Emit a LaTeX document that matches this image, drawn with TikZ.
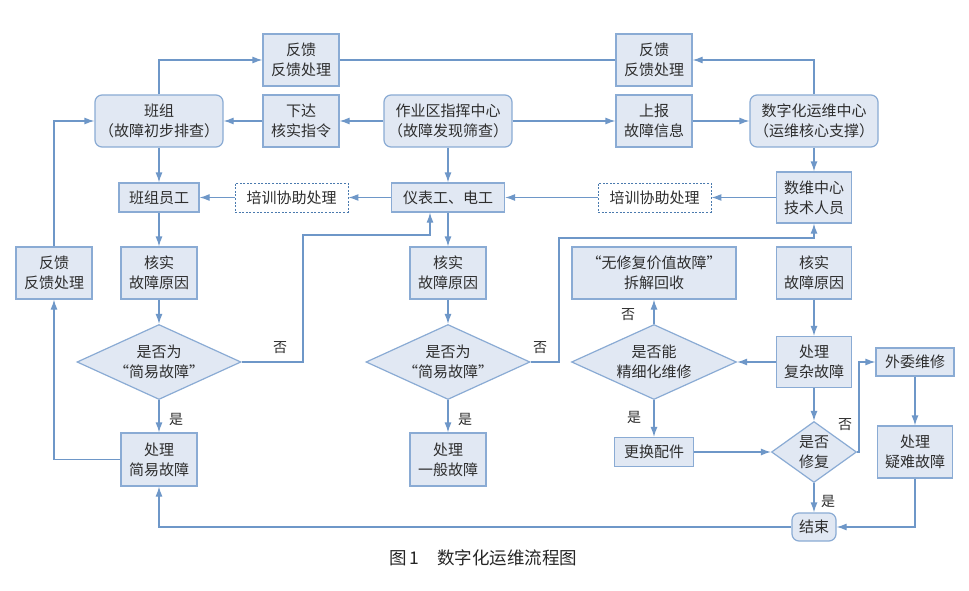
\documentclass[tikz,border=0pt]{standalone}
\usepackage{fontspec}
\newfontfamily\cjk{Noto Sans CJK SC}
\usetikzlibrary{shapes.geometric,arrows.meta}
\definecolor{boxfill}{HTML}{E1E8F3}
\definecolor{boxline}{HTML}{8AABD4}
\definecolor{lncol}{HTML}{6E97C8}
\definecolor{txt}{HTML}{2E2E2E}
\definecolor{dashcol}{HTML}{4A7AAE}
\begin{document}
\begin{tikzpicture}[x=1pt,y=-1pt,
  base/.style={font=\cjk\fontsize{15}{20}\selectfont, text=txt, align=center, inner sep=0pt},
  box/.style={base, rectangle, draw=boxline, fill=boxfill, line width=1.2pt},
  rbox/.style={box, rounded corners=7pt},
  dbox/.style={base, rectangle, draw=dashcol, fill=white, line width=0.9pt, dash pattern=on 2pt off 1.6pt},
  dia/.style={base, diamond, draw=boxline, fill=boxfill, line width=1.2pt},
  arr/.style={draw=lncol, line width=1.2pt, -{Latex[length=10pt,width=7pt]}},
  ln/.style={draw=lncol, line width=1.2pt},
  lab/.style={font=\cjk\fontsize{14}{16}\selectfont, text=txt, inner sep=0pt},
  captext/.style={font=\cjk\fontsize{17.5}{20}\selectfont, text=black!85, inner sep=0pt},
]
\fill[white] (0,0) rectangle (969,591);
\useasboundingbox (0,0) rectangle (969,591);

% top row
\node[box, minimum width=76pt, minimum height=52pt] (fb1) at (301,60) {反馈\\反馈处理};
\node[box, minimum width=76pt, minimum height=52pt] (fb2) at (654,60) {反馈\\反馈处理};
\node[rbox, minimum width=128pt, minimum height=52pt] (banzu) at (159,121) {班组\\（故障初步排查）};
\node[box, minimum width=76pt, minimum height=52pt] (xiada) at (301,121) {下达\\核实指令};
\node[rbox, minimum width=128pt, minimum height=52pt] (zyq) at (448,121) {作业区指挥中心\\（故障发现筛查）};
\node[box, minimum width=76pt, minimum height=52pt] (shangbao) at (654,121) {上报\\故障信息};
\node[rbox, minimum width=128pt, minimum height=52pt] (szh) at (814,121) {数字化运维中心\\（运维核心支撑）};

% second row
\node[box, minimum width=80pt, minimum height=29pt] (bzyg) at (159,197.5) {班组员工};
\node[dbox, minimum width=113pt, minimum height=29pt] (px1) at (291.5,197.5) {培训协助处理};
\node[box, minimum width=113pt, minimum height=29pt] (ybg) at (448,197.5) {仪表工、电工};
\node[dbox, minimum width=113pt, minimum height=29pt] (px2) at (654.5,197.5) {培训协助处理};
\node[box, minimum width=75pt, minimum height=51pt] (swz) at (814,197.5) {数维中心\\技术人员};

% third row
\node[box, minimum width=76pt, minimum height=52pt] (fb3) at (54,273) {反馈\\反馈处理};
\node[box, minimum width=76pt, minimum height=52pt] (hs1) at (159,273) {核实\\故障原因};
\node[box, minimum width=76pt, minimum height=52pt] (hs2) at (448,273) {核实\\故障原因};
\node[box, minimum width=164pt, minimum height=52pt] (wx) at (654,273) {“无修复价值故障”\\拆解回收};
\node[box, minimum width=75pt, minimum height=52pt] (hs3) at (814,273) {核实\\故障原因};

% diamonds
\node[dia, minimum width=164pt, minimum height=75pt, label={[base]center:是否为\\“简易故障”}] (d1) at (159,362) {};
\node[dia, minimum width=164pt, minimum height=75pt, label={[base]center:是否为\\“简易故障”}] (d2) at (448,362) {};
\node[dia, minimum width=165pt, minimum height=75pt, label={[base]center:是否能\\精细化维修}] (d3) at (654,362) {};
\node[box, minimum width=75pt, minimum height=51pt] (cl3) at (814,362) {处理\\复杂故障};
\node[box, minimum width=78pt, minimum height=28pt] (ww) at (915,362) {外委维修};

% lower row
\node[box, minimum width=76pt, minimum height=53pt] (cl1) at (159,459.5) {处理\\简易故障};
\node[box, minimum width=76pt, minimum height=53pt] (cl2) at (448,459.5) {处理\\一般故障};
\node[box, minimum width=79pt, minimum height=29pt] (gh) at (654,452) {更换配件};
\node[dia, minimum width=85pt, minimum height=61pt, label={[base]center:是否\\修复}] (d4) at (814,452) {};
\node[box, minimum width=75pt, minimum height=52pt] (yn) at (915,452) {处理\\疑难故障};
\node[rbox, minimum width=44pt, minimum height=28pt] (js) at (814,527) {结束};

% caption
\node[captext, anchor=west] (caption) at (389,558) {图\,1\hspace{18pt}数字化运维流程图};

% helper coordinates
\coordinate (n1) at (303,235);
\coordinate (n2) at (559,238);
\coordinate (n3) at (859,452);

% connectors
\draw[arr] (banzu.north) |- (fb1.west);
\draw[ln] (fb1.east) -- (fb2.west);
\draw[arr] (szh.north) |- (fb2.east);
\draw[arr] (xiada.west) -- (banzu.east);
\draw[arr] (zyq.west) -- (xiada.east);
\draw[arr] (zyq.east) -- (shangbao.west);
\draw[arr] (shangbao.east) -- (szh.west);
\draw[arr] (zyq.south) -- (ybg.north);
\draw[arr] (szh.south) -- (swz.north);
\draw[arr] (swz.west) -- (px2.east);
\draw[arr] (px2.west) -- (ybg.east);
\draw[arr] (ybg.west) -- (px1.east);
\draw[arr] (px1.west) -- (bzyg.east);
\draw[arr] (banzu.south) -- (bzyg.north);
\draw[arr] (bzyg.south) -- (hs1.north);
\draw[arr] (hs1.south) -- (d1.north);
\draw[arr] (d1.south) -- (cl1.north);
\draw[arr] (cl1.west) -| (fb3.south);
\draw[arr] (fb3.north) |- (banzu.west);
\draw[arr] (d1.east) -| (n1) -| ([xshift=-18pt]ybg.south);

\draw[arr] (ybg.south) -- (hs2.north);
\draw[arr] (hs2.south) -- (d2.north);
\draw[arr] (d2.south) -- (cl2.north);
\draw[arr] (d2.east) -| (n2) -| (swz.south);

\draw[arr] (hs3.south) -- (cl3.north);
\draw[arr] (cl3.west) -- (d3.east);
\draw[arr] (d3.north) -- (wx.south);
\draw[arr] (d3.south) -- (gh.north);
\draw[arr] (gh.east) -- (d4.west);
\draw[arr] (cl3.south) -- (d4.north);
\draw[arr] (d4.south) -- (js.north);
\draw[arr] (d4.east) -- (n3) |- (ww.west);
\draw[arr] (ww.south) -- (yn.north);
\draw[arr] (yn.south) |- (js.east);
\draw[arr] (js.west) -| (cl1.south);

% yes / no labels
\node[lab] (l1) at (280,348) {否};
\node[lab] (l2) at (176,419) {是};
\node[lab] (l3) at (540,348) {否};
\node[lab] (l4) at (465,419) {是};
\node[lab] (l5) at (628,315) {否};
\node[lab] (l6) at (634,417) {是};
\node[lab] (l7) at (845,425) {否};
\node[lab] (l8) at (828,501) {是};
\end{tikzpicture}
\end{document}
